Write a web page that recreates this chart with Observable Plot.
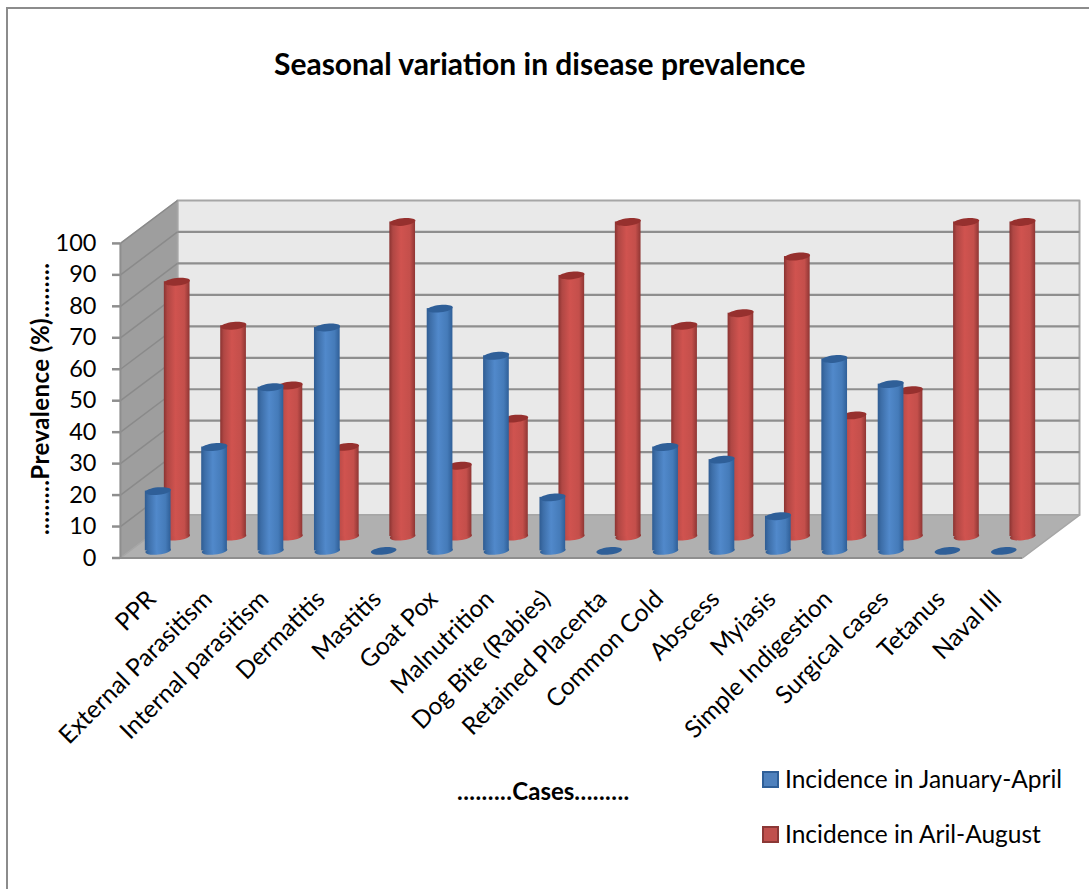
<!DOCTYPE html>
<html>
<head>
<meta charset="utf-8">
<script src="https://cdn.jsdelivr.net/npm/d3@7"></script>
<script src="https://cdn.jsdelivr.net/npm/@observablehq/plot@0.6"></script>
<style>
html,body{margin:0;padding:0;background:#fff;}
#page{position:relative;width:1089px;height:889px;overflow:hidden;font-family:Lato,"Open Sans",sans-serif;color:#000;}
#frame{position:absolute;left:6px;top:7px;width:1083px;height:882px;border-left:2px solid #8c8c8c;border-top:2px solid #8c8c8c;}
#title{position:absolute;left:274px;top:45px;font-weight:700;font-size:30px;line-height:36px;white-space:nowrap;}
#chart{position:absolute;left:0;top:130px;}
#xlabel{position:absolute;left:457px;top:776px;font-weight:700;font-size:24px;line-height:30px;white-space:nowrap;}
#xlabel span{letter-spacing:.45px;}
.lg{position:absolute;left:762px;display:flex;align-items:center;font-size:24.5px;line-height:28px;white-space:nowrap;}
.lg i{display:inline-block;width:13px;height:13px;border-width:2.5px;border-style:solid;margin-right:6px;}
.ylab{letter-spacing:.45px;}
</style>
</head>
<body>
<div id="page">
  <div id="frame"></div>
  <div id="title">Seasonal variation in disease prevalence</div>
  <div id="chart"></div>
  <div id="xlabel"><span>.........</span>Cases<span>.........</span></div>
  <div class="lg" style="top:765px"><i style="background:#4f81bd;border-color:#2f5f98"></i>Incidence in January-April</div>
  <div class="lg" style="top:820px"><i style="background:#c0504d;border-color:#8c3836"></i>Incidence in Aril-August</div>
</div>
<script>
const categories = ["PPR","External Parasitism","Internal parasitism","Dermatitis","Mastitis","Goat Pox","Malnutrition","Dog Bite (Rabies)","Retained Placenta","Common Cold","Abscess","Myiasis","Simple Indigestion","Surgical cases","Tetanus","Naval Ill"];
const janApr = [19,33,52,71,0,77,62,17,0,33,29,11,61,53,0,0];
const aprAug = [81,67,48,28.5,100,22.5,37.5,83,100,67,71,89,38.5,46.5,100,100];
const yTicks = [0,10,20,30,40,50,60,70,80,90,100];

// oblique depth of the 3-D box, in scale units
const DX = 1.011, DY = 13.64;
const BAR_W = 0.456;
const n = categories.length;

const rows = (vals, depth) => vals.map((v,i)=>({
  u: i + 0.5 + DX*depth,
  base: DY*depth,
  top: DY*depth + v,
  v
}));
const blue = rows(janApr, 1/6);
const red = rows(aprAug, 1/2);

const floor = [[0,0],[n,0],[n+DX,DY],[DX,DY]];
const leftWall = [[0,0],[DX,DY],[DX,100+DY],[0,100]];
const backWall = [[DX,DY],[n+DX,DY],[n+DX,100+DY],[DX,100+DY]];

const ellipse = {draw(ctx,size){
  const rx = Math.sqrt(size/Math.PI), ry = rx*0.29, k = 0.5523;
  ctx.moveTo(-rx,0);
  ctx.bezierCurveTo(-rx,-ry*k,-rx*k,-ry,0,-ry);
  ctx.bezierCurveTo(rx*k,-ry,rx,-ry*k,rx,0);
  ctx.bezierCurveTo(rx,ry*k,rx*k,ry,0,ry);
  ctx.bezierCurveTo(-rx*k,ry,-rx,ry*k,-rx,0);
  ctx.closePath();
}};

function defs(){
  const d = d3.create("svg:defs");
  const grad = (id,stops)=>{
    const g = d.append("linearGradient").attr("id",id).attr("x1",0).attr("x2",1).attr("y1",0).attr("y2",0);
    stops.forEach(([o,c])=>g.append("stop").attr("offset",o).attr("stop-color",c));
  };
  grad("gBlue",[[0,"#2f5c92"],[0.14,"#3d6ea8"],[0.45,"#5189cb"],[0.8,"#457bb9"],[1,"#2f5f98"]]);
  grad("gRed",[[0,"#8a3331"],[0.14,"#b04744"],[0.45,"#d0534f"],[0.8,"#c44f4b"],[1,"#8f3634"]]);
  return d.node();
}

const cylinders = (data, body, cap) => [
  Plot.dot(data.filter(d=>d.v>0),{x:"u",y:"base",r:BAR_W/2*56.375,symbol:ellipse,rotate:-6,fill:body,stroke:"none"}),
  Plot.rect(data.filter(d=>d.v>0),{x1:d=>d.u-BAR_W/2,x2:d=>d.u+BAR_W/2,y1:"base",y2:"top",fill:body,inset:0}),
  Plot.dot(data,{x:"u",y:"top",r:BAR_W/2*56.375,symbol:ellipse,rotate:-6,fill:cap,stroke:"none"})
];

const plot = Plot.plot({
  width:1089,
  height:615,
  marginLeft:120,
  marginRight:10,
  marginTop:70,
  marginBottom:187.5,
  style:{fontFamily:"Lato, 'Open Sans', sans-serif",background:"transparent",overflow:"visible"},
  x:{domain:[0,n+DX]},
  y:{domain:[0,100+DY]},
  marks:[
    defs,
    Plot.line(backWall,{x:"0",y:"1",fill:"#e9e9e9",stroke:"#a6a6a6",strokeWidth:2,curve:"linear-closed"}),
    Plot.line(leftWall,{x:"0",y:"1",fill:"#9e9e9e",stroke:"#a6a6a6",strokeWidth:1.5,curve:"linear-closed"}),
    Plot.line(floor,{x:"0",y:"1",fill:"#b0b0b0",stroke:"#a6a6a6",strokeWidth:1.5,curve:"linear-closed"}),
    Plot.link(yTicks.filter(v=>v>0&&v<100),{x1:DX,x2:n+DX,y1:v=>v+DY,y2:v=>v+DY,stroke:"#8e8e8e",strokeWidth:2.2}),
    Plot.link(yTicks.filter(v=>v>0),{x1:0,x2:DX,y1:v=>v,y2:v=>v+DY,stroke:"#8a8a8a",strokeWidth:1.5}),
    Plot.ruleX([0],{y1:0,y2:100,stroke:"#8e8e8e",strokeWidth:2}),
    Plot.ruleY([0],{x1:0,x2:n,stroke:"#8e8e8e",strokeWidth:2.2}),
    ...cylinders(red,"url(#gRed)","#96302e"),
    ...cylinders(blue,"url(#gBlue)","#2f5f98"),
    Plot.axisY({ticks:yTicks,tickSize:8,tickPadding:16,fontSize:23.5,label:null,stroke:"#8e8e8e",strokeWidth:2.5,color:"#000"}),
    Plot.axisX({ticks:categories.map((c,i)=>i+0.5),tickFormat:u=>categories[Math.floor(u)],tickSize:0,tickPadding:37,dx:3,tickRotate:-45,fontSize:24.5,label:null,color:"#000"}),
    Plot.text([".........Prevalence (%)........."],{text:d=>d,x:0,y:50.6,dx:-79,rotate:-90,fontSize:24,fontWeight:700,fill:"#000",className:"ylab"})
  ]
});
document.getElementById("chart").appendChild(plot);
</script>
</body>
</html>
